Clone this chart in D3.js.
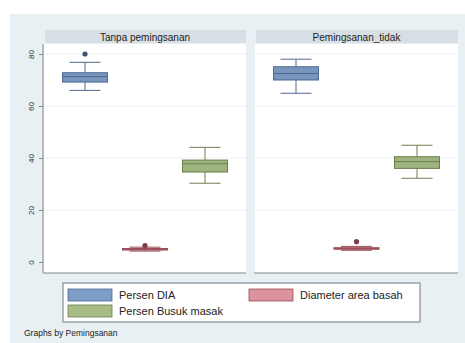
<!DOCTYPE html>
<html>
<head>
<meta charset="utf-8">
<script src="https://cdn.jsdelivr.net/npm/d3@7"></script>
<style>
  html, body { margin: 0; padding: 0; background: #ffffff; }
  svg { display: block; font-family: "Liberation Sans", Arial, sans-serif; }
</style>
</head>
<body>
<svg id="chart" width="465" height="343"></svg>
<script>
// Panels (one per value of Pemingsanan) and the three measured variables
const panels = ["Tanpa pemingsanan", "Pemingsanan_tidak"];
const variables = ["Persen DIA", "Diameter area basah", "Persen Busuk masak"];
const yTicks = [0, 20, 40, 60, 80];

// Box statistics per panel: [lower whisker, q1, median, q3, upper whisker]
const boxDIA = [[66.0, 69.2, 71.3, 72.8, 76.8], [64.9, 70.0, 72.5, 75.1, 78.0]];
const boxDiameter = [[4.2, 4.6, 4.9, 5.2, 5.7], [4.5, 4.9, 5.2, 5.5, 6.0]];
const boxBusuk = [[30.3, 34.6, 37.8, 39.2, 44.1], [32.2, 36.0, 38.6, 40.5, 44.9]];

// Outside values per panel
const outDIA = [[80.0], []];
const outDiameter = [[6.3], [7.8]];
const outBusuk = [[], []];

const fills = ["#7896bd", "#d08b95", "#9fb37f"];
const strokes = ["#4d6a8e", "#9a4d58", "#6c7f4e"];

const svg = d3.select("#chart");

// Graph region background
svg.append("rect").attr("x", 10).attr("y", 14).attr("width", 455).attr("height", 329)
  .attr("fill", "#e9f0f3");

const panelX = [[44, 246], [255, 458]];
const plotTop = 44, plotBottom = 273;

const y = d3.scaleLinear().domain([0, 80]).range([262, 54]);

const boxes = [boxDIA, boxDiameter, boxBusuk];
const outs = [outDIA, outDiameter, outBusuk];

panels.forEach((name, p) => {
  const [x0, x1] = panelX[p];
  const g = svg.append("g");

  // header strip
  g.append("rect").attr("x", x0 + 1).attr("y", 30).attr("width", x1 - x0 - 1).attr("height", 13)
    .attr("fill", "#d8dfe4");
  g.append("text").attr("x", (x0 + x1) / 2).attr("y", 40.5).attr("text-anchor", "middle")
    .attr("font-size", 10).attr("fill", "#222").text(name);

  // plot region
  g.append("rect").attr("x", x0).attr("y", plotTop).attr("width", x1 - x0).attr("height", plotBottom - plotTop)
    .attr("fill", "#ffffff");

  // grid lines
  g.selectAll(".grid").data(yTicks.slice(1)).enter().append("line")
    .attr("x1", x0).attr("x2", x1).attr("y1", d => y(d)).attr("y2", d => y(d))
    .attr("stroke", "#eef2f4").attr("stroke-width", 1);

  // bottom axis line
  g.append("line").attr("x1", x0 - 1).attr("x2", x1).attr("y1", plotBottom).attr("y2", plotBottom)
    .attr("stroke", "#7d8a91").attr("stroke-width", 1);

  const x = d3.scalePoint().domain(variables).range([x0 + 41, x1 - 41]);
  const bw = 45, cw = 31;

  variables.forEach((v, i) => {
    const s = boxes[i][p];
    const cx = x(v);
    const bg = g.append("g");
    // whiskers
    bg.append("line").attr("x1", cx).attr("x2", cx).attr("y1", y(s[0])).attr("y2", y(s[1]))
      .attr("stroke", strokes[i]).attr("stroke-width", 1);
    bg.append("line").attr("x1", cx).attr("x2", cx).attr("y1", y(s[3])).attr("y2", y(s[4]))
      .attr("stroke", strokes[i]).attr("stroke-width", 1);
    [s[0], s[4]].forEach(val => {
      bg.append("line").attr("x1", cx - cw / 2).attr("x2", cx + cw / 2).attr("y1", y(val)).attr("y2", y(val))
        .attr("stroke", strokes[i]).attr("stroke-width", 1);
    });
    // box
    bg.append("rect").attr("x", cx - bw / 2).attr("y", y(s[3])).attr("width", bw)
      .attr("height", Math.max(1, y(s[1]) - y(s[3])))
      .attr("fill", fills[i]).attr("stroke", strokes[i]).attr("stroke-width", 1);
    // median
    bg.append("line").attr("x1", cx - bw / 2).attr("x2", cx + bw / 2).attr("y1", y(s[2])).attr("y2", y(s[2]))
      .attr("stroke", strokes[i]).attr("stroke-width", 1);
    // outside values
    bg.selectAll("circle").data(outs[i][p]).enter().append("circle")
      .attr("cx", cx).attr("cy", d => y(d)).attr("r", 2.6)
      .attr("fill", d3.color(strokes[i]).darker(0.6)).attr("stroke", "none");
  });
});

// y axis on left panel
const yAxis = svg.append("g").attr("transform", `translate(${panelX[0][0] - 1},0)`)
  .call(d3.axisLeft(y).tickValues(yTicks).tickSize(4).tickPadding(3).tickFormat(d3.format("d")));
yAxis.select(".domain").attr("d", `M0,${plotTop}V${plotBottom}`).attr("stroke", "#7d8a91");
yAxis.selectAll(".tick line").attr("stroke", "#7d8a91");
yAxis.selectAll(".tick text")
  .attr("font-size", 8).attr("fill", "#333")
  .attr("transform", "rotate(-90)")
  .attr("x", 0).attr("y", -9).attr("dy", 0)
  .attr("text-anchor", "middle");

// legend
const lg = svg.append("g");
lg.append("rect").attr("x", 63).attr("y", 283).attr("width", 357).attr("height", 39)
  .attr("fill", "#ffffff").attr("stroke", "#6f7a80").attr("stroke-width", 1);
const legendItems = [
  { label: variables[0], color: 0, x: 68, y: 289 },
  { label: variables[1], color: 1, x: 249, y: 289 },
  { label: variables[2], color: 2, x: 68, y: 305 }
];
legendItems.forEach(d => {
  lg.append("rect").attr("x", d.x).attr("y", d.y).attr("width", 44).attr("height", 12)
    .attr("fill", d3.color(fills[d.color]).brighter(0.15)).attr("stroke", strokes[d.color]).attr("stroke-width", 0.8);
  lg.append("text").attr("x", d.x + 51).attr("y", d.y + 10).attr("font-size", 11).attr("fill", "#222")
    .text(d.label);
});

// note
svg.append("text").attr("x", 24).attr("y", 336).attr("font-size", 8.5).attr("fill", "#222")
  .text("Graphs by Pemingsanan");
</script>
</body>
</html>
